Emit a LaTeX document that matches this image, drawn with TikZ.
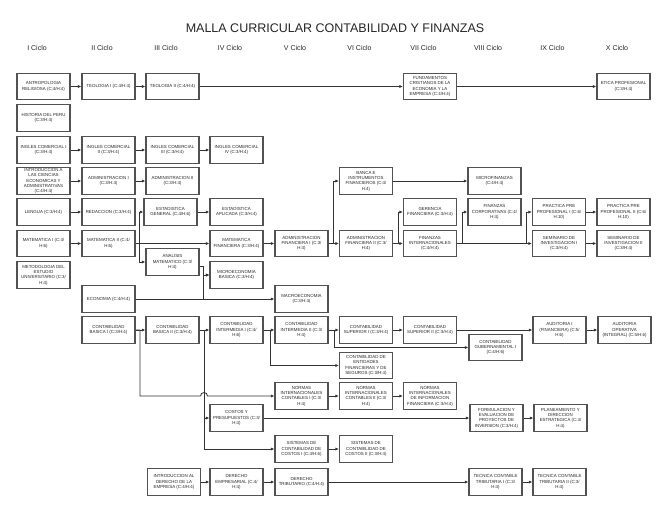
\documentclass[tikz,border=0pt]{standalone}
\usepackage{fontspec}
\setmainfont{Liberation Sans}
\usetikzlibrary{arrows.meta}
\begin{document}
\begin{tikzpicture}[x=1pt,y=-1pt,
  course/.style={draw=black!68, line width=1.1pt, fill=white, minimum width=53pt, minimum height=26.5pt, inner sep=0pt, align=center, font=\fontsize{4.4}{5.3}\selectfont, text=black!85},
  link/.style={draw=black!80, line width=0.85pt, -{Latex[length=3.5pt,width=3pt]}},
  hdr/.style={font=\fontsize{7}{8}\selectfont, text=black!85},
  ttl/.style={font=\fontsize{12.5}{14}\selectfont, text=black!85}]
\useasboundingbox[fill=white] (0,0) rectangle (670,520);

\node[ttl] (title) at (335,28) {MALLA CURRICULAR CONTABILIDAD Y FINANZAS};
\node[hdr] (h1) at (37,48) {I Ciclo};
\node[hdr] (h2) at (102,48) {II Ciclo};
\node[hdr] (h3) at (166,48) {III Ciclo};
\node[hdr] (h4) at (230,48) {IV Ciclo};
\node[hdr] (h5) at (295,48) {V Ciclo};
\node[hdr] (h6) at (359.5,48) {VI Ciclo};
\node[hdr] (h7) at (423.5,48) {VII Ciclo};
\node[hdr] (h8) at (488,48) {VIII Ciclo};
\node[hdr] (h9) at (552.5,48) {IX Ciclo};
\node[hdr] (h10) at (617,48) {X Ciclo};

% I Ciclo
\node[course] (antro) at (43.5,86.5) {ANTROPOLOGIA\\RELIGIOSA (C:4/H:4)};
\node[course] (hist) at (43.5,118) {HISTORIA DEL PERU\\(C:3/H:4)};
\node[course] (ing1) at (43.5,150) {INGLES COMERCIAL I\\(C:3/H:4)};
\node[course] (intro) at (43.5,181) {INTRODUCCION A\\LAS CIENCIAS\\ECONOMICAS Y\\ADMINISTRATIVAS\\(C:4/H:4)};
\node[course] (leng) at (43.5,212) {LENGUA (C:3/H:4)};
\node[course] (mat1) at (43.5,243.5) {MATEMATICA I (C:4/\\H:6)};
\node[course] (metod) at (43.5,275) {METODOLOGIA DEL\\ESTUDIO\\UNIVERSITARIO (C:3/\\H:4)};

% II Ciclo
\node[course] (teo1) at (108.5,86.5) {TEOLOGIA I (C:4/H:4)};
\node[course] (ing2) at (108.5,150) {INGLES COMERCIAL\\II (C:3/H:4)};
\node[course] (adm1) at (108.5,181) {ADMINISTRACION I\\(C:3/H:4)};
\node[course] (redac) at (108.5,212) {REDACCION (C:3/H:4)};
\node[course] (mat2) at (108.5,243.5) {MATEMATICA II (C:4/\\H:6)};
\node[course] (econ) at (108.5,299) {ECONOMIA (C:4/H:4)};
\node[course] (cb1) at (108.5,330) {CONTABILIDAD\\BASICA I (C:3/H:4)};

% III Ciclo
\node[course] (teo2) at (172.5,86.5) {TEOLOGIA II (C:4/H:4)};
\node[course] (ing3) at (172.5,150) {INGLES COMERCIAL\\III (C:3/H:4)};
\node[course] (adm2) at (172.5,181) {ADMINISTRACION II\\(C:3/H:4)};
\node[course] (estgen) at (170.5,212) {ESTADISTICA\\GENERAL (C:4/H:6)};
\node[course] (anal) at (172.5,262) {ANALISIS\\MATEMATICO (C:3/\\H:4)};
\node[course] (cb2) at (172.5,330) {CONTABILIDAD\\BASICA II (C:3/H:4)};
\node[course] (intder) at (174,482) {INTRODUCCION AL\\DERECHO DE LA\\EMPRESA (C:4/H:4)};

% IV Ciclo
\node[course] (ing4) at (236.5,150) {INGLES COMERCIAL\\IV (C:3/H:4)};
\node[course] (estapl) at (236.5,212) {ESTADISTICA\\APLICADA (C:3/H:4)};
\node[course] (matfin) at (236.5,243.5) {MATEMATICA\\FINANCIERA (C:3/H:4)};
\node[course] (micro) at (236.5,275) {MICROECONOMIA\\BASICA (C:3/H:4)};
\node[course] (ci1) at (236.5,330) {CONTABILIDAD\\INTERMEDIA I (C:4/\\H:6)};
\node[course] (costos) at (236.5,418) {COSTOS Y\\PRESUPUESTOS (C:3/\\H:4)};
\node[course] (derem) at (236.5,482) {DERECHO\\EMPRESARIAL (C:4/\\H:4)};

% V Ciclo
\node[course] (adf1) at (301.5,243.5) {ADMINISTRACION\\FINANCIERA I (C:3/\\H:4)};
\node[course] (macro) at (301.5,299) {MACROECONOMIA\\(C:3/H:4)};
\node[course] (ci2) at (301.5,330) {CONTABILIDAD\\INTERMEDIA II (C:3/\\H:4)};
\node[course] (norm1) at (301.5,396) {NORMAS\\INTERNACIONALES\\CONTABLES I (C:3/\\H:4)};
\node[course] (sist1) at (301.5,449) {SISTEMAS DE\\CONTABILIDAD DE\\COSTOS I (C:4/H:6)};
\node[course] (dertri) at (301.5,482) {DERECHO\\TRIBUTARIO (C:4/H:4)};

% VI Ciclo
\node[course] (banca) at (366,181) {BANCA E\\INSTRUMENTOS\\FINANCIEROS (C:4/\\H:4)};
\node[course] (adf2) at (366,243.5) {ADMINISTRACION\\FINANCIERA II (C:3/\\H:4)};
\node[course] (cs1) at (366,330) {CONTABILIDAD\\SUPERIOR I (C:3/H:4)};
\node[course] (ent) at (366,365.5) {CONTABILIDAD DE\\ENTIDADES\\FINANCIERAS Y DE\\SEGUROS (C:3/H:4)};
\node[course] (norm2) at (366,396) {NORMAS\\INTERNACIONALES\\CONTABLES II (C:3/\\H:4)};
\node[course] (sist2) at (366,449) {SISTEMAS DE\\CONTABILIDAD DE\\COSTOS II (C:3/H:4)};

% VII Ciclo
\node[course] (fund) at (430,86.5) {FUNDAMENTOS\\CRISTIANOS DE LA\\ECONOMIA Y LA\\EMPRESA (C:4/H:4)};
\node[course] (geren) at (430,212) {GERENCIA\\FINANCIERA (C:3/H:4)};
\node[course] (finint) at (430,243.5) {FINANZAS\\INTERNACIONALES\\(C:4/H:4)};
\node[course] (cs2) at (430,330) {CONTABILIDAD\\SUPERIOR II (C:3/H:4)};
\node[course] (nif) at (430,396) {NORMAS\\INTERNACIONALES\\DE INFORMACION\\FINANCIERA (C:3/H:4)};

% VIII Ciclo
\node[course] (microfin) at (494.5,181) {MICROFINANZAS\\(C:4/H:4)};
\node[course] (fincorp) at (494.5,212) {FINANZAS\\CORPORATIVAS (C:4/\\H:4)};
\node[course] (gub) at (495.5,347.5) {CONTABILIDAD\\GUBERNAMENTAL I\\(C:4/H:6)};
\node[course] (form) at (496.5,418) {FORMULACION Y\\EVALUACION DE\\PROYECTOS DE\\INVERSION (C:3/H:4)};
\node[course] (tec1) at (495.5,482) {TECNICA CONTABLE\\TRIBUTARIA I (C:3/\\H:4)};

% IX Ciclo
\node[course] (prac1) at (559,212) {PRACTICA PRE\\PROFESIONAL I (C:6/\\H:10)};
\node[course] (semi1) at (559,243.5) {SEMINARIO DE\\INVESTIGACION I\\(C:3/H:4)};
\node[course] (aud1) at (559.5,330) {AUDITORIA I\\(FINANCIERA) (C:5/\\H:6)};
\node[course] (plan) at (560.5,418) {PLANEAMIENTO Y\\DIRECCION\\ESTRATEGICA (C:4/\\H:4)};
\node[course] (tec2) at (559.5,482) {TECNICA CONTABLE\\TRIBUTARIA II (C:3/\\H:4)};

% X Ciclo
\node[course] (etica) at (623.5,86.5) {ETICA PROFESIONAL\\(C:3/H:4)};
\node[course] (prac2) at (623.5,212) {PRACTICA PRE\\PROFESIONAL II (C:6/\\H:10)};
\node[course] (semi2) at (623.5,243.5) {SEMINARIO DE\\INVESTIGACION II\\(C:3/H:4)};
\node[course] (audop) at (624.5,330) {AUDITORIA\\OPERATIVA\\(INTEGRAL) (C:5/H:6)};

% junction coordinates
\coordinate (jM) at (139.5,0);
\coordinate (jA) at (203.5,0);
\coordinate (jB) at (140,0);
\coordinate (jC) at (204,0);
\coordinate (jD) at (270,0);
\coordinate (jE) at (334,0);
\coordinate (jF) at (333.5,0);
\coordinate (jG) at (398,0);
\coordinate (jH) at (462,0);
\coordinate (jP) at (526,0);

% upper connectors
\draw[link] (antro) -- (teo1);
\draw[link] (teo1) -- (teo2);
\draw[link] (teo2) -- (fund);
\draw[link] (fund) -- (etica);
\draw[link] (ing1) -- (ing2);
\draw[link] (ing2) -- (ing3);
\draw[link] (ing3) -- (ing4);
\draw[link] (intro) -- (adm1);
\draw[link] (adm1) -- (adm2);
\draw[link] (leng) -- (redac);
\draw[link] (mat1) -- (mat2);
\draw[link] (mat2.east) -- (mat2.east -| jM) |- (estgen.west);
\draw[link] (mat2.east) -- (mat2.east -| jM) |- (anal.west);
\draw[link] (mat2) -- (matfin);
\draw[link] (estgen) -- (estapl);
\draw[link] ([yshift=-4pt]anal.east) -- ([yshift=-4pt]anal.east -| jA) |- (micro.west);
\draw[link] (econ.east) -- (econ.east -| jA) |- (micro.west);
\draw[link] (econ) -- (macro);
\draw[link] (matfin) -- (adf1);
\draw[link] (adf1.east) -- (adf1.east -| jF) |- (banca.west);
\draw[link] (adf1) -- (adf2);
\draw[link] (banca) -- (microfin);
\draw[link] (adf2.east) -- (adf2.east -| jG) |- (geren.west);
\draw[link] (adf2) -- (finint);
\draw[link] (finint.east) -- (finint.east -| jH) |- (fincorp.west);
\draw[link] (finint) -- (semi1);
\draw[link] (finint.east) -- (finint.east -| jP) |- (prac1.west);
\draw[link] (prac1) -- (prac2);
\draw[link] (semi1) -- (semi2);

% lower connectors
\draw[link] (cb1) -- (cb2);
\draw[link] (cb1.east) -- (cb1.east -| jB) -- (140,396) -- (200.5,396) arc (180:360:3.5) -- (norm1.west);
\draw[link] (cb2) -- (ci1);
\draw[link] (cb2.east) -- (cb2.east -| jC) |- (costos.west);
\draw[link] (cb2.east) -- (cb2.east -| jC) |- (sist1.west);
\draw[link] (ci1) -- (ci2);
\draw[link] (ci1.east) -- (ci1.east -| jD) |- (ent.west);
\draw[link] (ci2) -- (cs1);
\draw[link] (ci2.east) -- (ci2.east -| jE) |- (gub.west);
\draw[link] (cs1) -- (cs2);
\draw[link] (cs2) -- (aud1);
\draw[link] (aud1) -- (audop);
\draw[link] (norm1) -- (norm2);
\draw[link] (norm2) -- (nif);
\draw[link] (costos) -- (form);
\draw[link] (form) -- (plan);
\draw[link] (sist1) -- (sist2);
\draw[link] (intder) -- (derem);
\draw[link] (derem) -- (dertri);
\draw[link] (dertri) -- (tec1);
\draw[link] (tec1) -- (tec2);
\end{tikzpicture}
\end{document}
